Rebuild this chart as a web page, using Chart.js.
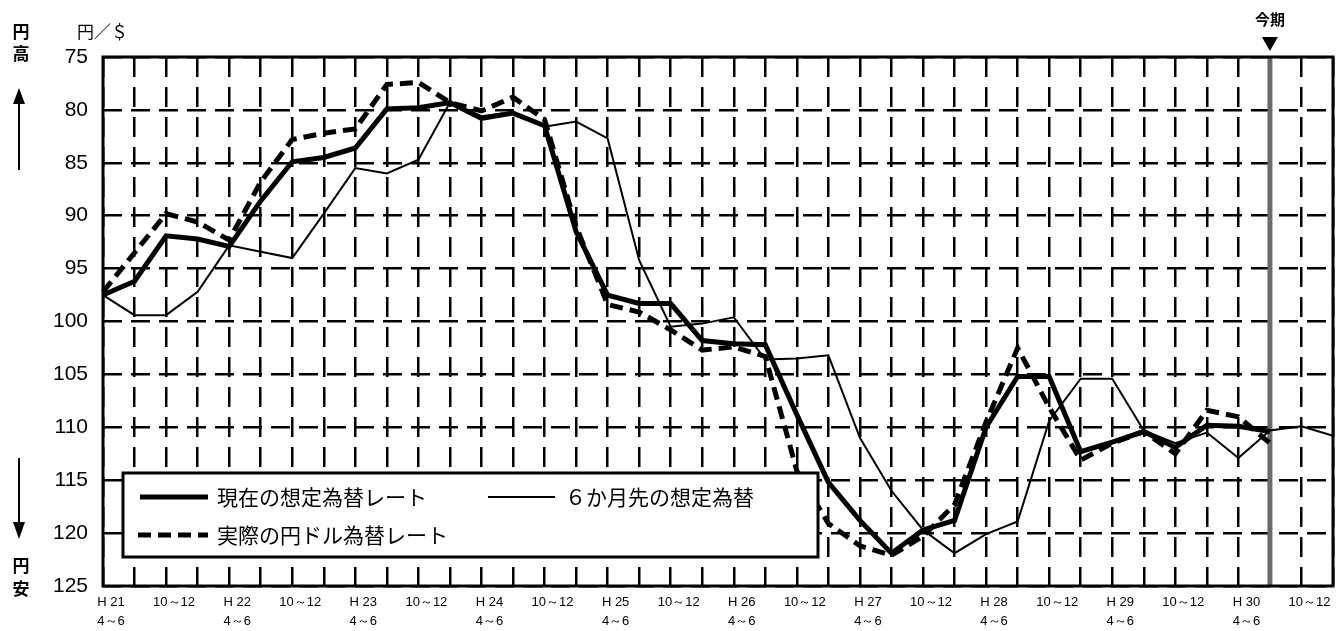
<!DOCTYPE html>
<html lang="ja">
<head>
<meta charset="utf-8">
<title>想定為替レートの推移</title>
<script src="https://cdn.jsdelivr.net/npm/chart.js@4.4.1/dist/chart.umd.min.js"></script>
<style>
  html, body { margin: 0; padding: 0; background: #fff; }
  #wrap { width: 1341px; height: 631px; }
</style>
</head>
<body>
<div id="wrap"><canvas id="fx-chart" width="1341" height="631"></canvas></div>
<script>
// Quarters H21 4~6 ... H31 1~3, one label every two quarters
const quarterLabels = [
  ['H 21', '4～6'], '', '10～12', '',
  ['H 22', '4～6'], '', '10～12', '',
  ['H 23', '4～6'], '', '10～12', '',
  ['H 24', '4～6'], '', '10～12', '',
  ['H 25', '4～6'], '', '10～12', '',
  ['H 26', '4～6'], '', '10～12', '',
  ['H 27', '4～6'], '', '10～12', '',
  ['H 28', '4～6'], '', '10～12', '',
  ['H 29', '4～6'], '', '10～12', '',
  ['H 30', '4～6'], '', '10～12', ''
];

// 現在の想定為替レート (円/$)
const currentRate = [
  97.5, 96.2, 91.9, 92.2, 92.9, 88.6, 84.9, 84.5, 83.6, 79.9,
  79.8, 79.3, 80.8, 80.3, 81.5, 91.5, 97.5, 98.3, 98.3, 101.8,
  102.1, 102.2, 108.8, 115.2, 118.8, 121.9, 119.7, 118.8, 110.0, 105.2,
  105.2, 112.3, 111.4, 110.4, 111.9, 109.8, 109.9, 110.4, null, null
];

// ６か月先の想定為替
const sixMonthRate = [
  97.5, 99.4, 99.4, 97.2, 92.8, 93.4, 94.0, 89.8, 85.5, 86.0,
  84.7, 79.3, 80.6, 80.2, 81.6, 81.1, 82.7, 94.2, 100.5, 100.2,
  99.6, 103.6, 103.5, 103.2, 111.0, 116.0, 119.7, 121.9, 120.1, 118.9,
  109.4, 105.4, 105.4, 110.3, 111.5, 110.5, 112.9, 110.3, 109.9, 110.8
];

// 実際の円ドル為替レート
const actualRate = [
  97.2, 93.5, 89.8, 90.6, 92.3, 86.8, 82.8, 82.2, 81.8, 77.6,
  77.4, 79.3, 80.1, 78.8, 80.9, 91.0, 98.4, 99.1, 100.8, 102.7,
  102.4, 103.3, 114.1, 119.1, 121.2, 122.1, 120.3, 117.3, 109.5, 102.5,
  108.1, 113.1, 111.5, 110.4, 112.5, 108.4, 109.0, 111.5, null, null
];

const yTicks = [75, 80, 85, 90, 95, 100, 105, 110, 115, 120, 125];
const currentPeriodIndex = 37; // 今期 = H30 7~9

const numFont = "'Liberation Sans Narrow', 'Liberation Sans', sans-serif";
const jpFont = "'Noto Sans CJK JP', sans-serif";

// Decorations: 今期 marker, plot frame, legend box and side notes
const decorations = {
  id: 'decorations',
  beforeDatasetsDraw(chart) {
    const { ctx, chartArea, scales } = chart;
    const x = scales.x.getPixelForValue(currentPeriodIndex);
    ctx.save();
    ctx.strokeStyle = '#6b6b6b';
    ctx.lineWidth = 5;
    ctx.beginPath();
    ctx.moveTo(x, chartArea.top);
    ctx.lineTo(x, chartArea.bottom);
    ctx.stroke();
    ctx.restore();
  },
  afterDatasetsDraw(chart) {
    const { ctx, chartArea } = chart;
    ctx.save();
    // frame
    ctx.strokeStyle = '#000';
    ctx.lineWidth = 3;
    ctx.strokeRect(chartArea.left, chartArea.top,
      chartArea.right - chartArea.left, chartArea.bottom - chartArea.top);

    // legend box
    ctx.fillStyle = '#fff';
    ctx.fillRect(123, 473, 695, 84);
    ctx.strokeRect(123, 473, 695, 84);

    const ds = chart.data.datasets;
    const sample = (x1, x2, y, d) => {
      ctx.save();
      ctx.strokeStyle = '#000';
      ctx.lineWidth = d.borderWidth;
      ctx.setLineDash(d.borderDash || []);
      ctx.beginPath();
      ctx.moveTo(x1, y);
      ctx.lineTo(x2, y);
      ctx.stroke();
      ctx.restore();
    };
    sample(140, 208, 497, ds[0]);
    sample(488, 555, 497, ds[1]);
    sample(138, 208, 535, ds[2]);

    ctx.fillStyle = '#000';
    ctx.font = '21px ' + jpFont;
    ctx.textAlign = 'left';
    ctx.textBaseline = 'middle';
    ctx.fillText(ds[0].label, 217, 497);
    ctx.fillText(ds[1].label, 565, 497);
    ctx.fillText(ds[2].label, 217, 535);
    ctx.restore();
  },
  afterDraw(chart) {
    const { ctx, scales } = chart;
    ctx.save();
    ctx.fillStyle = '#000';
    ctx.strokeStyle = '#000';
    ctx.textAlign = 'center';
    ctx.textBaseline = 'middle';
    ctx.font = 'bold 17px ' + jpFont;
    ctx.fillText('円', 21, 32);
    ctx.fillText('高', 21, 54);
    ctx.fillText('円', 21, 566);
    ctx.fillText('安', 21, 589);
    ctx.font = '17px ' + jpFont;
    ctx.textAlign = 'left';
    ctx.fillText('円／＄', 77, 32);

    // arrows
    ctx.lineWidth = 2;
    ctx.beginPath();
    ctx.moveTo(19, 170); ctx.lineTo(19, 100);
    ctx.moveTo(19, 458); ctx.lineTo(19, 526);
    ctx.stroke();
    ctx.beginPath();
    ctx.moveTo(19, 88); ctx.lineTo(13, 104); ctx.lineTo(25, 104); ctx.closePath();
    ctx.moveTo(19, 539); ctx.lineTo(13, 522); ctx.lineTo(25, 522); ctx.closePath();
    ctx.fill();

    // 今期 label
    const x = scales.x.getPixelForValue(currentPeriodIndex);
    ctx.textAlign = 'center';
    ctx.font = 'bold 15px ' + jpFont;
    ctx.fillText('今期', x, 19);
    ctx.beginPath();
    ctx.moveTo(x - 8, 37); ctx.lineTo(x + 8, 37); ctx.lineTo(x, 51); ctx.closePath();
    ctx.fill();
    ctx.restore();
  }
};

const ctx = document.getElementById('fx-chart').getContext('2d');
new Chart(ctx, {
  type: 'line',
  data: {
    labels: quarterLabels,
    datasets: [
      {
        label: '現在の想定為替レート',
        data: currentRate,
        borderColor: '#000',
        borderWidth: 5,
        pointRadius: 0,
        tension: 0
      },
      {
        label: '６か月先の想定為替',
        data: sixMonthRate,
        borderColor: '#000',
        borderWidth: 2,
        pointRadius: 0,
        tension: 0
      },
      {
        label: '実際の円ドル為替レート',
        data: actualRate,
        borderColor: '#000',
        borderWidth: 5,
        borderDash: [13, 7],
        pointRadius: 0,
        tension: 0
      }
    ]
  },
  options: {
    responsive: false,
    animation: false,
    devicePixelRatio: 1,
    layout: { padding: { left: 0, right: 8, top: 57, bottom: 0 } },
    plugins: {
      legend: { display: false },
      tooltip: { enabled: false }
    },
    scales: {
      x: {
        offset: false,
        afterFit: (scale) => { scale.height = 45; },
        grid: { color: '#000', lineWidth: 2.5, drawTicks: false },
        border: { display: false, dash: [20, 10] },
        ticks: {
          autoSkip: false,
          maxRotation: 0,
          padding: 7,
          labelOffset: 8,
          color: '#000',
          font: { family: numFont, size: 13, lineHeight: 1.45 }
        }
      },
      y: {
        reverse: true,
        min: 75,
        max: 125,
        afterFit: (scale) => { scale.width = 103; },
        afterBuildTicks: (scale) => { scale.ticks = yTicks.map(v => ({ value: v })); },
        grid: { color: '#000', lineWidth: 2.5, drawTicks: false },
        border: { display: false, dash: [19, 9] },
        ticks: {
          padding: 15,
          color: '#000',
          font: { family: numFont, size: 21 }
        }
      }
    }
  },
  plugins: [decorations]
});
</script>
</body>
</html>
